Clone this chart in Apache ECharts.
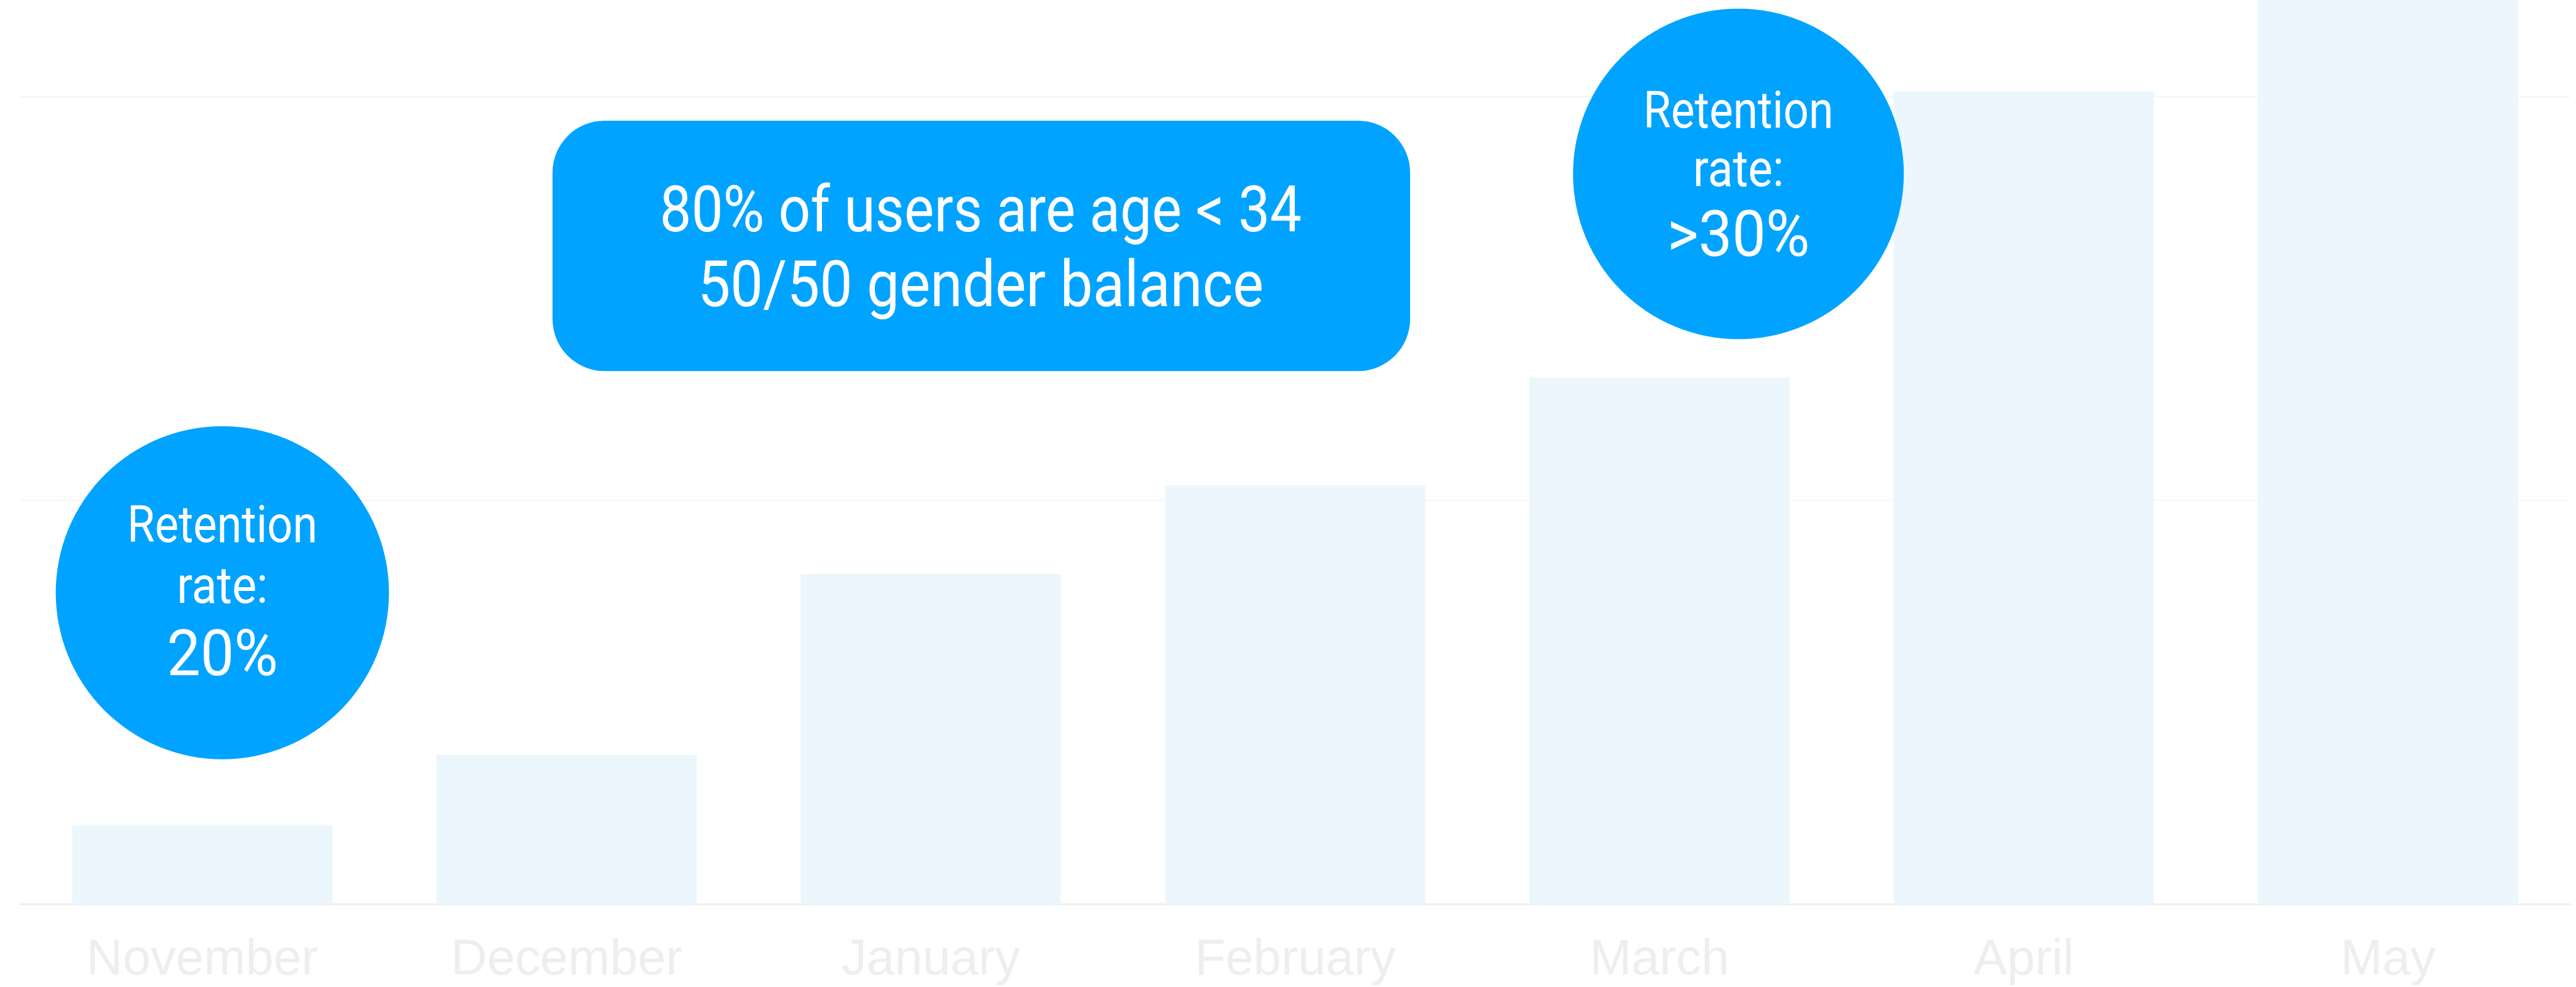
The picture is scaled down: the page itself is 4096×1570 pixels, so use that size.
<!DOCTYPE html>
<html>
<head>
<meta charset="utf-8">
<script src="https://cdn.jsdelivr.net/npm/echarts@6/dist/echarts.min.js"></script>
<style>
  html, body { margin: 0; padding: 0; background: #fff; }
  #chart_container { width: 4096px; height: 1570px; }
</style>
</head>
<body>
<div id="chart_container"></div>
<script>
"use strict";

// data (gridline step = 100)
const months = ['November', 'December', 'January', 'February', 'March', 'April', 'May'];
const users = [19.6, 37.0, 81.8, 103.8, 130.5, 201.3, 236];
const yTicks = [0, 100, 200];

// annotation texts
const noteLeft = ['Retention', 'rate:', '20%'];
const noteRight = ['Retention', 'rate:', '>30%'];
const noteBox = ['80% of users are age < 34', '50/50 gender balance'];

// everything was measured on the 4204px wide reference
const k = 0.974;
const s = (v) => v * k;

const blue = '#00A3FF';
const noteFont = "Roboto, 'Liberation Sans', sans-serif";

// y is the middle of the capitals; the note font is narrower than Roboto, so squeeze it
let txt = (x, y, str, size, sx) => ({
    type: 'text',
    x: s(x), y: s(y + 0.125 * size),
    scaleX: sx,
    style: {
        text: str, fill: '#fff',
        font: `${s(size)}px ${noteFont}`,
        align: 'center', verticalAlign: 'middle'
    },
    z: 20
});

let bubble = (cx, cy, r, lines, ys) => [
    { type: 'circle', shape: { cx: s(cx), cy: s(cy), r: s(r) }, style: { fill: blue }, z: 10 },
    txt(cx, ys[0], lines[0], 84, 0.87),
    txt(cx, ys[1], lines[1], 84, 0.9),
    txt(cx, ys[2], lines[2], 104, 0.94)
];

let optEchart = {
    animation: false,
    backgroundColor: '#fff',
    grid: { left: s(33), right: s(9.5), top: s(158), bottom: s(135) },
    xAxis: {
        type: 'category',
        data: months,
        axisLine: { lineStyle: { color: '#eeeeee', width: s(3) } },
        axisTick: { show: false },
        axisLabel: {
            color: '#eeeeee',
            fontFamily: "'Liberation Sans', Arial, sans-serif",
            fontSize: s(82),
            margin: s(51)
        }
    },
    yAxis: {
        type: 'value',
        min: yTicks[0], max: yTicks[yTicks.length - 1], interval: yTicks[1] - yTicks[0],
        axisLine: { show: false },
        axisTick: { show: false },
        axisLabel: { show: false },
        splitLine: { lineStyle: { color: '#f6f6f6', width: s(2) } }
    },
    series: [{
        type: 'bar',
        data: users,
        clip: false,
        barCategoryGap: '28.5%',
        itemStyle: { color: '#ECF7FD' },
        z: 2
    }],
    graphic: [
        { type: 'rect', shape: { x: s(902), y: s(197), width: s(1400), height: s(409), r: s(85) },
          style: { fill: blue }, z: 10 },
        txt(1601, 339, noteBox[0], 104, 0.885),
        txt(1601, 461, noteBox[1], 104, 0.913),
        ...bubble(363, 968, 272, noteLeft, [854, 953, 1064]),
        ...bubble(2838, 284, 270, noteRight, [177, 272, 379])
    ]
};

let myChart = echarts.init(document.getElementById('chart_container'));
myChart.setOption(optEchart);
</script>
</body>
</html>
